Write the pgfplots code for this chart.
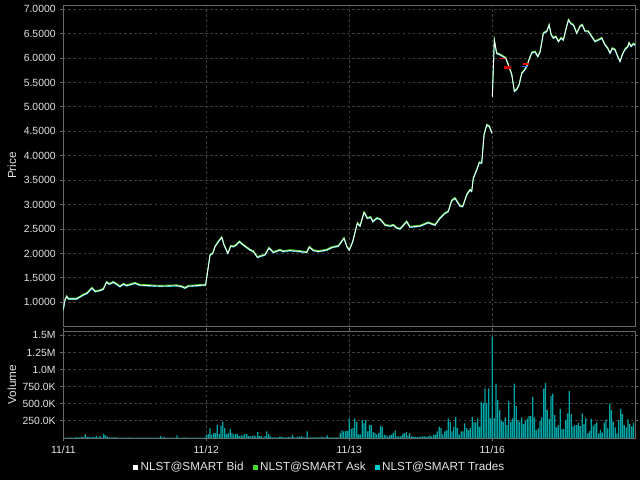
\documentclass[border=0pt]{standalone}
\usepackage{pgfplots}
\pgfplotsset{compat=1.18}
\usepackage{pgfplotstable}
\usepackage{fontspec}
\setmainfont{Liberation Sans}
\definecolor{gridc}{RGB}{62,62,62}
\definecolor{framec}{RGB}{105,105,105}
\definecolor{labc}{RGB}{228,228,228}
\definecolor{askc}{RGB}{70,215,40}
\definecolor{tradec}{RGB}{0,205,205}
\definecolor{volc}{RGB}{0,165,165}
\definecolor{bluec}{RGB}{30,110,230}

\pgfplotstableread{
x y
0.000 0.84
0.007 0.98
0.012 1.05
0.024 1.12
0.035 1.07
0.094 1.07
0.140 1.15
0.164 1.18
0.200 1.29
0.222 1.22
0.257 1.24
0.280 1.27
0.302 1.41
0.320 1.37
0.350 1.41
0.373 1.37
0.396 1.32
0.420 1.37
0.443 1.34
0.501 1.39
0.536 1.35
0.676 1.33
0.793 1.34
0.828 1.32
0.851 1.29
0.874 1.33
0.979 1.35
0.995 1.35
1.014 1.73
1.026 1.97
1.045 2.00
1.061 2.14
1.084 2.24
1.108 2.33
1.124 2.17
1.150 2.00
1.171 2.15
1.189 2.14
1.208 2.17
1.231 2.24
1.259 2.17
1.306 2.07
1.329 2.04
1.357 1.92
1.387 1.95
1.410 1.97
1.438 2.11
1.469 2.02
1.515 2.07
1.538 2.04
1.585 2.06
1.655 2.04
1.702 2.02
1.720 2.13
1.748 2.06
1.783 2.04
1.842 2.07
1.877 2.12
1.923 2.15
1.963 2.31
1.982 2.14
2.000 2.07
2.024 2.24
2.056 2.62
2.075 2.56
2.103 2.84
2.126 2.72
2.150 2.74
2.164 2.65
2.192 2.72
2.215 2.70
2.250 2.58
2.285 2.56
2.308 2.58
2.331 2.52
2.355 2.50
2.401 2.65
2.424 2.54
2.494 2.56
2.552 2.63
2.599 2.58
2.634 2.72
2.669 2.82
2.692 2.86
2.716 3.08
2.739 3.13
2.774 2.97
2.793 2.96
2.821 3.20
2.844 3.30
2.856 3.27
2.867 3.54
2.891 3.71
2.909 3.86
2.926 3.85
2.942 4.43
2.961 4.63
2.979 4.60
2.990 4.52
2.998 4.46
nan nan
3.000 5.21
3.014 6.37
3.030 6.10
3.054 6.07
3.077 6.03
3.094 6.00
3.112 5.86
3.136 5.66
3.154 5.32
3.171 5.36
3.187 5.45
3.206 5.69
3.224 5.75
3.241 5.83
3.257 5.97
3.276 6.11
3.299 6.13
3.318 6.03
3.334 6.13
3.357 6.51
3.381 6.55
3.397 6.68
3.411 6.48
3.427 6.41
3.444 6.44
3.462 6.34
3.481 6.41
3.497 6.37
3.514 6.58
3.532 6.78
3.551 6.70
3.567 6.68
3.590 6.51
3.613 6.65
3.629 6.68
3.648 6.55
3.671 6.55
3.695 6.44
3.718 6.34
3.741 6.37
3.765 6.41
3.788 6.27
3.807 6.20
3.823 6.10
3.839 6.20
3.858 6.17
3.877 6.03
3.893 5.93
3.909 6.07
3.928 6.18
3.947 6.23
3.956 6.31
3.970 6.24
3.986 6.29
4.000 6.27
}\price

\pgfplotstableread[row sep=\\]{
v\\
10\\5\\5\\5\\10\\5\\5\\15\\10\\10\\20\\10\\58\\15\\20\\10\\20\\10\\29\\10\\
29\\10\\58\\39\\20\\10\\10\\10\\10\\10\\5\\5\\5\\5\\5\\5\\10\\5\\5\\5\\
5\\5\\5\\5\\5\\5\\5\\5\\5\\5\\5\\5\\5\\29\\10\\15\\5\\5\\5\\5\\
5\\5\\39\\5\\5\\5\\10\\5\\5\\5\\5\\5\\5\\5\\5\\5\\5\\5\\
48\\58\\145\\48\\73\\73\\193\\58\\179\\241\\145\\58\\73\\135\\73\\48\\58\\58\\29\\39\\
39\\58\\58\\29\\24\\29\\39\\24\\87\\29\\29\\10\\29\\97\\58\\24\\10\\10\\10\\10\\
19\\19\\10\\10\\10\\19\\10\\48\\10\\10\\19\\19\\29\\10\\10\\97\\10\\10\\10\\10\\
10\\10\\10\\19\\10\\10\\39\\10\\10\\10\\10\\10\\10\\73\\111\\97\\104\\104\\
286\\130\\145\\286\\237\\53\\53\\262\\213\\262\\97\\189\\189\\87\\73\\53\\73\\179\\165\\48\\
39\\24\\39\\48\\73\\106\\24\\24\\24\\53\\73\\87\\39\\73\\24\\15\\15\\15\\15\\
24\\24\\24\\15\\24\\39\\24\\48\\48\\97\\165\\145\\53\\97\\111\\286\\237\\97\\165\\310\\
145\\48\\97\\97\\213\\145\\116\\145\\310\\228\\228\\286\\165\\532\\508\\726\\508\\726\\286\\
1482\\290\\795\\552\\407\\252\\237\\300\\189\\538\\237\\286\\795\\465\\262\\237\\300\\203\\252\\286\\
320\\320\\600\\300\\116\\141\\247\\300\\722\\804\\407\\280\\610\\649\\334\\155\\189\\426\\131\\131\\
262\\358\\683\\349\\169\\189\\189\\223\\174\\358\\203\\295\\68\\102\\281\\179\\203\\228\\68\\116\\
77\\223\\271\\141\\504\\407\\237\\155\\68\\262\\426\\349\\189\\155\\271\\203\\169\\223\\
}\vol

\begin{document}
\begin{tikzpicture}
\fill[black] (0,0) rectangle (480pt,360pt);
\useasboundingbox (0,0) rectangle (480pt,360pt);
\pgfplotsset{
  chartstyle/.style={
    scale only axis, width=429pt,
    xmin=0, xmax=4,
    /pgf/number format/assume math mode=true,
    tick align=outside, major tick length=2.25pt,
    tick style={framec, line width=0.75pt},
    grid=major,
    grid style={gridc, line width=0.75pt, dash pattern=on 1.9pt off 1.9pt},
    axis line style={framec, line width=0.75pt},
    ticklabel style={text=labc, font=\fontsize{7.8}{9}\selectfont},
    label style={text=labc, font=\fontsize{8.8}{10}\selectfont},
    ylabel style={at={(axis description cs:-0.0897,0.5)}, anchor=center},
  }
}
\begin{axis}[chartstyle,
  at={(47.5pt,115.5pt)}, anchor=south west, height=240.75pt,
  ymin=0.514, ymax=7.088,
  xtick={1,2,3}, xticklabels={}, xtick style={draw=none},
  ytick={1,1.5,2,2.5,3,3.5,4,4.5,5,5.5,6,6.5,7},
  yticklabels={1.0000,1.5000,2.0000,2.5000,3.0000,3.5000,4.0000,4.5000,5.0000,5.5000,6.0000,6.5000,7.0000},
  ylabel={Price},
  unbounded coords=jump,
]
\addplot[askc, line width=0.7pt, yshift=0.6pt] table[x=x,y=y] {\price};
\addplot[tradec, line width=0.5pt, yshift=-0.45pt] table[x=x,y=y] {\price};
\addplot[white, line width=0.65pt] table[x=x,y=y] {\price};
\addplot[red, line width=1.1pt] coordinates {(3.050,5.99) (3.090,5.99)};
\addplot[red!85!black, line width=2.2pt] coordinates {(3.082,5.81) (3.129,5.81)};
\addplot[bluec, line width=1.2pt] coordinates {(3.206,5.83) (3.248,5.83)};
\addplot[red, line width=1.1pt] coordinates {(3.217,5.88) (3.259,5.88)};
\end{axis}
\begin{axis}[chartstyle,
  at={(47.5pt,31.5pt)}, anchor=south west, height=80pt,
  ymin=0, ymax=1558,
  xtick={0,1,2,3}, xticklabels={11/11,11/12,11/13,11/16},
  ytick={250,500,750,1000,1250,1500},
  yticklabels={250.0K,500.0K,750.0K,1.0M,1.25M,1.5M},
  ylabel={Volume},
  legend style={draw=none, fill=none, text=labc, font=\fontsize{8.8}{10}\selectfont,
    at={(0.449,-0.272)}, anchor=center, legend columns=3,
    /tikz/every even column/.append style={column sep=5pt}},
  legend image code/.code={\fill[#1] (0pt,-1.5pt) rectangle (3pt,1.5pt);},
]
\addplot[ybar, bar width=0.95pt, fill=volc, draw=none, forget plot]
  table[x expr=\coordindex/78, y=v] {\vol};
\addlegendimage{white}
\addlegendimage{askc}
\addlegendimage{tradec}
\legend{NLST@SMART Bid, NLST@SMART Ask, NLST@SMART Trades}
\end{axis}
\end{tikzpicture}
\end{document}
